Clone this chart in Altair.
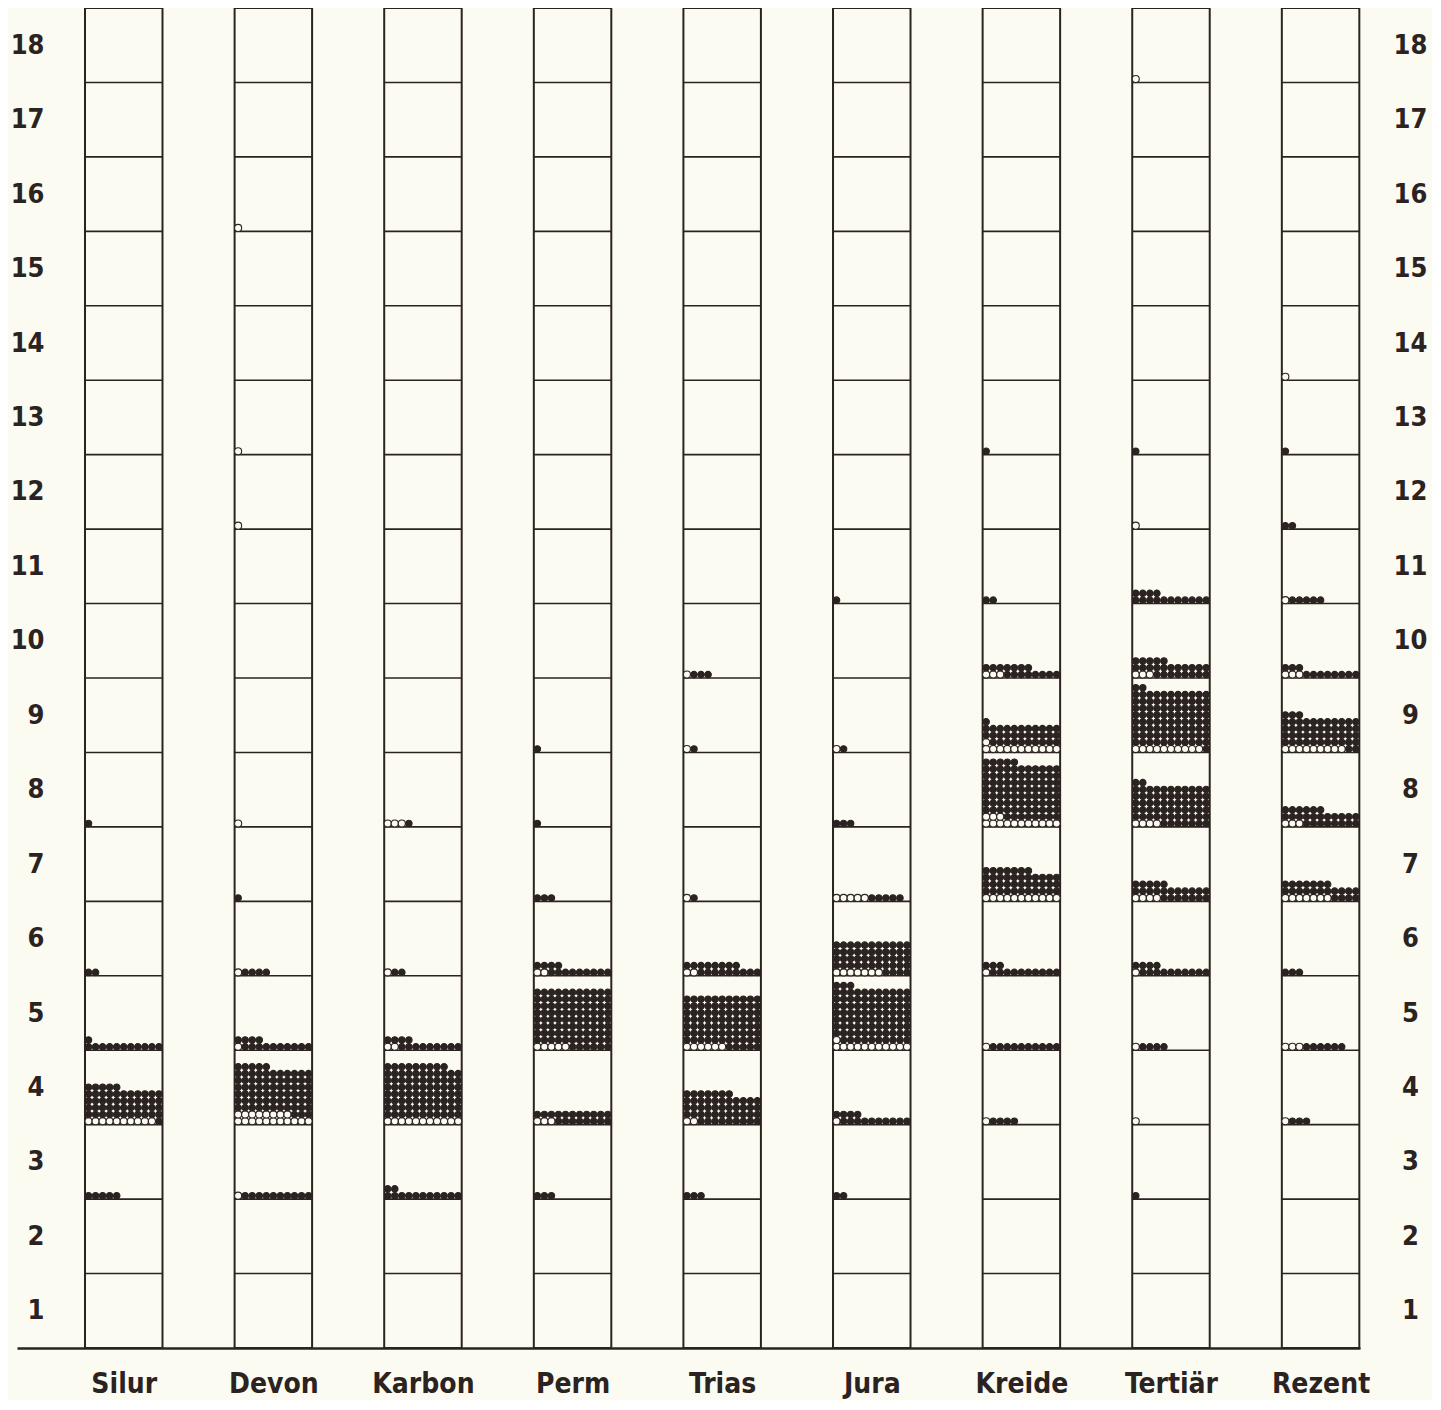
import altair as alt
import pandas as pd

# ---------------- data ----------------
periods = ["Silur", "Devon", "Karbon", "Perm", "Trias", "Jura", "Kreide", "Tertiär", "Rezent"]
band_numbers = list(range(1, 19))

silur_band   = [8, 6, 5, 4, 3]
silur_open   = [0, 0, 0, 10, 0]
silur_filled = [1, 2, 12, 50, 5]

devon_band   = [16, 13, 12, 8, 7, 6, 5, 4, 3]
devon_open   = [1, 1, 1, 1, 0, 1, 1, 19, 1]
devon_filled = [0, 0, 0, 0, 1, 4, 14, 74, 10]

karbon_band   = [8, 6, 5, 4, 3]
karbon_open   = [3, 1, 2, 11, 0]
karbon_filled = [1, 2, 13, 86, 13]

perm_band   = [9, 8, 7, 6, 5, 4, 3]
perm_open   = [0, 0, 0, 2, 5, 3, 0]
perm_filled = [1, 1, 3, 13, 94, 19, 3]

trias_band   = [10, 9, 7, 6, 5, 4, 3]
trias_open   = [1, 1, 1, 2, 6, 2, 0]
trias_filled = [3, 1, 1, 17, 82, 49, 3]

jura_band   = [11, 9, 8, 7, 6, 5, 4, 3]
jura_open   = [0, 1, 0, 5, 7, 12, 1, 0]
jura_filled = [1, 1, 3, 5, 48, 90, 14, 2]

kreide_band   = [13, 11, 10, 9, 8, 7, 6, 5, 4]
kreide_open   = [0, 0, 3, 12, 14, 11, 1, 1, 1]
kreide_filled = [1, 2, 15, 33, 90, 40, 13, 10, 4]

tertiaer_band   = [18, 13, 12, 11, 10, 9, 8, 7, 6, 5, 4, 3]
tertiaer_open   = [1, 0, 1, 0, 3, 10, 4, 4, 1, 1, 1, 0]
tertiaer_filled = [0, 1, 0, 15, 24, 91, 64, 23, 14, 4, 0, 1]

rezent_band   = [14, 13, 12, 11, 10, 9, 8, 7, 6, 5, 4]
rezent_open   = [1, 0, 0, 1, 3, 9, 3, 7, 0, 3, 1]
rezent_filled = [0, 1, 2, 5, 11, 49, 25, 22, 3, 6, 3]

series = [
    (silur_band, silur_open, silur_filled),
    (devon_band, devon_open, devon_filled),
    (karbon_band, karbon_open, karbon_filled),
    (perm_band, perm_open, perm_filled),
    (trias_band, trias_open, trias_filled),
    (jura_band, jura_open, jura_filled),
    (kreide_band, kreide_open, kreide_filled),
    (tertiaer_band, tertiaer_open, tertiaer_filled),
    (rezent_band, rezent_open, rezent_filled),
]

# ---------------- layout constants ----------------
BG = "#fcfbf1"
INK = "#2b2321"
FONT = "DejaVu Sans Condensed, DejaVu Sans, sans-serif"
W = 0.518            # column width in column-pitch units
PER_ROW = 11         # dots per row inside a column
DX = W / PER_ROW
DY = 0.0914          # dot row pitch in band units
X0, X1 = -0.4545, 8.5225

# ---------------- derived tables ----------------
cols = pd.DataFrame({"period": periods, "x": [i for i in range(len(periods))]})
cols["x2"] = cols["x"] + W
cols["y"] = 0
cols["y2"] = 18

rules = []
for i in range(len(periods)):
    for k in band_numbers[:-1]:
        rules.append({"x": i, "x2": i + W, "y": k})
rules = pd.DataFrame(rules)

dots = []
for i, (bands, opens, filleds) in enumerate(series):
    for b, o, f in zip(bands, opens, filleds):
        for n in range(o + f):
            r, j = divmod(n, PER_ROW)
            dots.append({
                "period": periods[i],
                "x": i + (j + 0.5) * DX,
                "y": (b - 1) + (r + 0.5) * DY,
                "kind": "offen" if n < o else "gefüllt",
            })
dots = pd.DataFrame(dots)

xs = alt.Scale(domain=[X0, X1], nice=False, zero=False)
ys = alt.Scale(domain=[0, 18], nice=False, zero=False)

name_expr = "[" + ",".join("'%s'" % p for p in periods) + "][round(datum.value - %.4f)]" % (W / 2)
band_vals = [k - 0.5 for k in band_numbers]

x_axis = alt.Axis(
    values=[i + W / 2 for i in range(len(periods))], labelExpr=name_expr,
    domain=True, domainColor=INK, domainWidth=2.5, ticks=False, grid=False,
    labelFont=FONT, labelFontSize=28, labelFontWeight="bold", labelColor=INK,
    labelPadding=22, title=None,
)
y_left = alt.Axis(
    values=band_vals, labelExpr="datum.value + 0.5", orient="left",
    domain=False, ticks=False, grid=False, labelFont=FONT, labelFontSize=27,
    labelFontWeight="bold", labelColor=INK, labelPadding=-27, labelAlign="right",
    labelBaseline="middle", title=None,
)
y_right = alt.Axis(
    values=band_vals, labelExpr="datum.value + 0.5", orient="right",
    domain=False, ticks=False, grid=False, labelFont=FONT, labelFontSize=27,
    labelFontWeight="bold", labelColor=INK, labelPadding=50, labelAlign="center",
    labelBaseline="middle", title=None,
)

col_layer = alt.Chart(cols).mark_rect(fillOpacity=0, stroke=INK, strokeWidth=2).encode(
    x=alt.X("x:Q", scale=xs, axis=x_axis),
    x2="x2",
    y=alt.Y("y:Q", scale=ys, axis=y_left),
    y2="y2",
)

rule_layer = alt.Chart(rules).mark_rule(color=INK, strokeWidth=1.6).encode(
    x=alt.X("x:Q", scale=xs),
    x2="x2",
    y=alt.Y("y:Q", scale=ys, axis=y_right),
)

dot_layer = alt.Chart(dots).mark_point(shape="circle", filled=True, stroke=INK, strokeWidth=1.1, opacity=1).encode(
    x=alt.X("x:Q", scale=xs),
    y=alt.Y("y:Q", scale=ys, axis=None),
    fill=alt.Fill("kind:N", scale=alt.Scale(domain=["offen", "gefüllt"], range=[BG, INK]), legend=None),
    size=alt.Size("kind:N", scale=alt.Scale(domain=["offen", "gefüllt"], range=[50, 42]), legend=None),
)

chart = alt.layer(col_layer, rule_layer, dot_layer).resolve_scale(y="independent").properties(
    width=1343, height=1340, background=BG,
    autosize=alt.AutoSizeParams(type="none"),
    padding={"left": 9, "top": 0, "right": 72, "bottom": 52},
).configure_view(stroke=None)

chart.save("out.html", embed_options={"renderer": "svg", "actions": False})
